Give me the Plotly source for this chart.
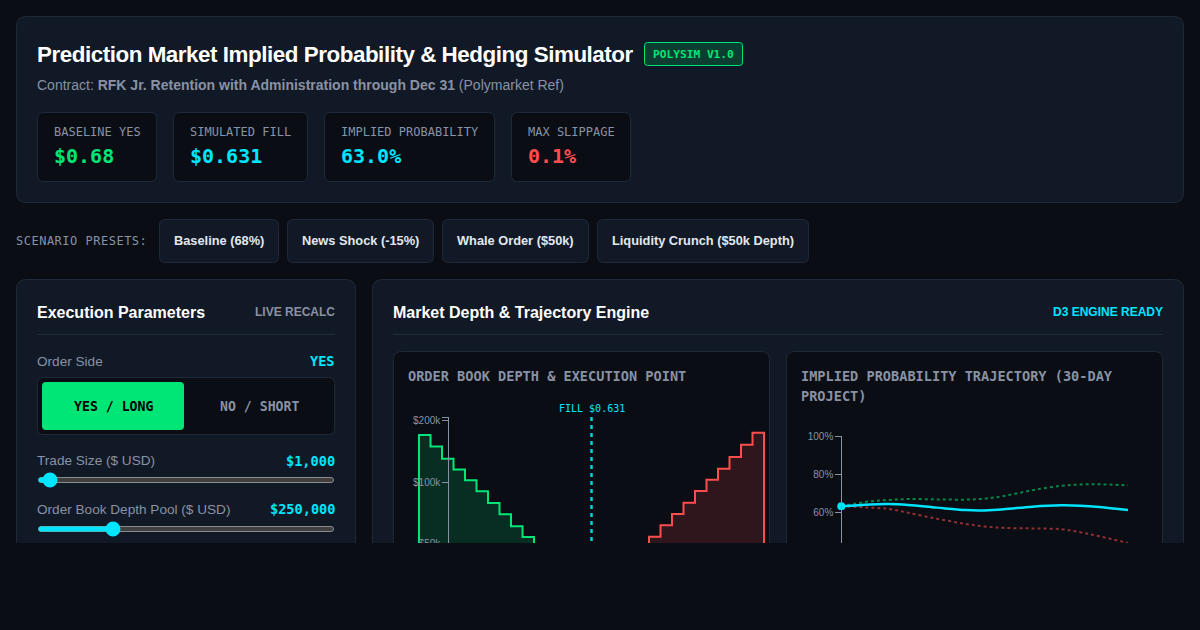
import plotly.graph_objects as go

W, H = 1200, 630

BG = "#0a0d14"
CARD = "#121926"
BORDER = "#1f2937"
MUTED = "#8892a4"
GREEN = "#00e676"
CYAN = "#00e5ff"
RED = "#ff4d4d"
SANS = "Liberation Sans"
MONO = "DejaVu Sans Mono"

# order book
bid_prices = [0.556, 0.556, 0.561, 0.566, 0.571, 0.576, 0.581, 0.586, 0.591, 0.596, 0.601, 0.606, 0.606]
bid_depth = [1000, 170000, 149000, 130000, 115000, 102000, 90000, 79000, 69500, 60700, 53800, 53800, 1000]
ask_prices = [0.656, 0.656, 0.661, 0.666, 0.671, 0.676, 0.681, 0.686, 0.691, 0.696, 0.701, 0.706, 0.706]
ask_depth = [1000, 54000, 61400, 69700, 79200, 90400, 102600, 116000, 132600, 152000, 174000, 174000, 1000]
fill_price = 0.631
depth_ticks = [200000, 100000, 50000]
depth_labels = ["$200k", "$100k", "$50k"]

# trajectory
days = [0, 3, 5, 7, 10, 13, 15, 17, 20, 23, 25, 27, 30]
prob_mean = [63.2, 64.2, 64.4, 63.9, 62.5, 61.2, 61.05, 61.6, 63.0, 63.7, 63.5, 62.8, 61.2]
prob_up = [63.2, 65.8, 66.5, 67.0, 66.8, 66.7, 67.2, 68.6, 71.6, 73.9, 74.6, 74.7, 74.2]
prob_down = [63.2, 62.5, 61.8, 59.8, 56.7, 54.0, 52.6, 51.9, 51.6, 51.2, 49.6, 47.5, 44.0]
prob_ticks = [100, 80, 60, 40, 20, 0]
prob_labels = ["100%", "80%", "60%", "40%", "20%", "0%"]

# header cards
stat_labels = ["BASELINE YES", "SIMULATED FILL", "IMPLIED PROBABILITY", "MAX SLIPPAGE"]
stat_values = ["$0.68", "$0.631", "63.0%", "0.1%"]
stat_colors = [GREEN, CYAN, CYAN, RED]
stat_left = [37, 173, 324, 511]
stat_right = [157, 308, 495, 631]

preset_labels = ["Baseline (68%)", "News Shock (-15%)", "Whale Order ($50k)", "Liquidity Crunch ($50k Depth)"]
preset_left = [159, 287, 442, 597]
preset_right = [279, 434, 589, 809]


def fx(x):
    return x / W


def fy(y):
    return 1 - y / H


shapes = []
annotations = []


def box(x0, y0, x1, y1, r=0, fill=CARD, line=BORDER, layer="below"):
    p = lambda x, y: f"{fx(x)},{fy(y)}"
    path = (
        f"M {p(x0 + r, y0)} L {p(x1 - r, y0)} Q {p(x1, y0)} {p(x1, y0 + r)} "
        f"L {p(x1, y1 - r)} Q {p(x1, y1)} {p(x1 - r, y1)} "
        f"L {p(x0 + r, y1)} Q {p(x0, y1)} {p(x0, y1 - r)} "
        f"L {p(x0, y0 + r)} Q {p(x0, y0)} {p(x0 + r, y0)} Z"
    )
    shapes.append(dict(type="path", path=path, xref="paper", yref="paper", fillcolor=fill,
                       line=dict(color=line, width=1 if line else 0), layer=layer))


def rule(x0, x1, y):
    shapes.append(dict(type="line", xref="paper", yref="paper", x0=fx(x0), x1=fx(x1), y0=fy(y), y1=fy(y),
                       line=dict(color=BORDER, width=1), layer="below"))


def txt(x, y, text, size=13, color=MUTED, family=SANS, anchor="left", bold=False, spacing=None):
    if bold:
        text = f"<b>{text}</b>"
    if spacing is not None:
        text = f'<span style="letter-spacing:{spacing}px">{text}</span>'
    annotations.append(dict(
        x=fx(x), y=fy(y), xref="paper", yref="paper", text=text,
        showarrow=False, xanchor=anchor, yanchor="middle", borderpad=0, borderwidth=0,
        font=dict(family=family, size=size, color=color),
    ))


# header
box(16.5, 16.5, 1183.5, 202.5, r=10)
txt(37, 54, "Prediction Market Implied Probability &amp; Hedging Simulator", 22.4, "#ffffff", bold=True, spacing=-0.46)
box(644.5, 42.5, 742.5, 65.5, r=3, fill="#0b3d30", line=GREEN)
txt(693.5, 54, "POLYSIM V1.0", 11.2, GREEN, MONO, "center", True)
txt(37, 85, "Contract: <b>RFK Jr. Retention with Administration through Dec 31</b> (Polymarket Ref)", 14)

for label, value, color, left, right in zip(stat_labels, stat_values, stat_colors, stat_left, stat_right):
    box(left + 0.5, 112.5, right - 0.5, 181.5, r=6, fill=BG)
    txt(left + 17, 132, label, 12, MUTED, MONO)
    txt(left + 17, 156, value, 20, color, MONO, bold=True)

# presets
txt(16, 241, "SCENARIO PRESETS:", 12, MUTED, MONO, spacing=0.5)
for label, left, right in zip(preset_labels, preset_left, preset_right):
    box(left + 0.5, 219.5, right - 0.5, 262.5, r=6)
    txt((left + right) / 2, 241, label, 12.8, "#e2e8f0", SANS, "center", True)

# left panel
box(16.5, 279.5, 355.5, 620, r=10)
txt(37, 312, "Execution Parameters", 16, "#ffffff", bold=True)
txt(335, 312, "LIVE RECALC", 12, MUTED, anchor="right", bold=True)
rule(37, 335, 334.5)
txt(37, 361, "Order Side", 13.6)
txt(335, 361, "YES", 13.6, CYAN, MONO, "right", True)
box(37.5, 377.5, 334.5, 434.5, r=6, fill=BG)
box(42, 382, 184, 430, r=4, fill=GREEN, line=None)
txt(113, 406, "YES / LONG", 13.2, "#000000", MONO, "center", True)
txt(259, 406, "NO / SHORT", 13.2, MUTED, MONO, "center", True)

txt(37, 461, "Trade Size ($ USD)", 13.6)
txt(335, 461, "$1,000", 13.6, CYAN, MONO, "right", True)
box(38.5, 477.5, 333.5, 482.5, r=2.5, fill="#3f3f3f", line="#8a8a8a")
box(38.5, 477.5, 50, 482.5, r=2.5, fill=CYAN, line=None)
shapes.append(dict(type="circle", xref="paper", yref="paper", x0=fx(42.5), x1=fx(57.5), y0=fy(487.5), y1=fy(472.5),
                   fillcolor=CYAN, line=dict(width=0), layer="below"))

txt(37, 509, "Order Book Depth Pool ($ USD)", 13.6)
txt(335, 509, "$250,000", 13.6, CYAN, MONO, "right", True)
box(38.5, 526.5, 333.5, 531.5, r=2.5, fill="#3f3f3f", line="#8a8a8a")
box(38.5, 526.5, 113, 531.5, r=2.5, fill=CYAN, line=None)
shapes.append(dict(type="circle", xref="paper", yref="paper", x0=fx(105.5), x1=fx(120.5), y0=fy(536.5), y1=fy(521.5),
                   fillcolor=CYAN, line=dict(width=0), layer="below"))

# right panel
box(372.5, 279.5, 1183.5, 620, r=10)
txt(393, 312, "Market Depth &amp; Trajectory Engine", 16, "#ffffff", bold=True)
txt(1163, 312, "D3 ENGINE READY", 12, CYAN, anchor="right", bold=True)
rule(393, 1163, 334.5)

box(393.5, 351.5, 769.5, 620, r=8, fill=BG)
txt(408, 376, "ORDER BOOK DEPTH &amp; EXECUTION POINT", 13.6, MUTED, MONO, bold=True)
box(786.5, 351.5, 1162.5, 620, r=8, fill=BG)
txt(801, 376, "IMPLIED PROBABILITY TRAJECTORY (30-DAY", 13.6, MUTED, MONO, bold=True)
txt(801, 396, "PROJECT)", 13.6, MUTED, MONO, bold=True)
txt(592, 408, f"FILL ${fill_price}", 10, CYAN, MONO, "center")

# the page is cut off here in the screenshot
shapes.append(dict(type="rect", xref="paper", yref="paper", x0=0, x1=1, y0=0, y1=fy(543),
                   fillcolor=BG, line=dict(width=0), layer="above"))

fig = go.Figure()

fig.add_trace(go.Scatter(x=bid_prices, y=bid_depth, mode="lines", line=dict(color=GREEN, width=2, shape="hv"),
                         fill="tozeroy", fillcolor="rgba(0,230,118,0.15)", xaxis="x", yaxis="y", hoverinfo="skip"))
fig.add_trace(go.Scatter(x=ask_prices, y=ask_depth, mode="lines", line=dict(color=RED, width=2, shape="hv"),
                         fill="tozeroy", fillcolor="rgba(255,77,77,0.15)", xaxis="x", yaxis="y", hoverinfo="skip"))
fig.add_trace(go.Scatter(x=[fill_price, fill_price], y=[208000, 1000], mode="lines",
                         line=dict(color=CYAN, width=2.5, dash="4px,4px"), opacity=0.9,
                         xaxis="x", yaxis="y", hoverinfo="skip"))

fig.add_trace(go.Scatter(x=days, y=prob_up, mode="lines", line=dict(color=GREEN, width=2, dash="3px,3px", shape="spline"),
                         opacity=0.55, xaxis="x2", yaxis="y2", hoverinfo="skip"))
fig.add_trace(go.Scatter(x=days, y=prob_down, mode="lines", line=dict(color=RED, width=2, dash="3px,3px", shape="spline"),
                         opacity=0.55, xaxis="x2", yaxis="y2", hoverinfo="skip"))
fig.add_trace(go.Scatter(x=days, y=prob_mean, mode="lines", line=dict(color=CYAN, width=2.5, shape="spline"),
                         xaxis="x2", yaxis="y2", hoverinfo="skip"))
fig.add_trace(go.Scatter(x=days[:1], y=prob_mean[:1], mode="markers", marker=dict(color=CYAN, size=8),
                         cliponaxis=False, xaxis="x2", yaxis="y2", hoverinfo="skip"))

tick_font = dict(family=SANS, size=10, color=MUTED)

fig.update_layout(
    width=W, height=H, margin=dict(l=0, r=0, t=0, b=0),
    paper_bgcolor=BG, plot_bgcolor="rgba(0,0,0,0)",
    showlegend=False, shapes=shapes, annotations=annotations,
    xaxis=dict(domain=[fx(408), fx(770)], range=[0.631 - 183.5 / 2300, 0.631 + 178.5 / 2300],
               visible=False, anchor="y", automargin=False),
    yaxis=dict(domain=[fy(620), fy(417)], type="log", range=[4.3245, 5.3182], anchor="free", position=fx(448.3),
               tickvals=[208000] + depth_ticks, ticktext=[""] + depth_labels, ticks="outside", ticklen=6,
               tickcolor=MUTED, tickfont=tick_font, showgrid=False, zeroline=False, automargin=False,
               showline=True, linecolor=MUTED, linewidth=1),
    xaxis2=dict(domain=[fx(841.3), fx(1128)], range=[0, 30], visible=False, anchor="y2", automargin=False),
    yaxis2=dict(domain=[fy(627), fy(436)], range=[0, 100], anchor="free", position=fx(841.3),
                tickvals=prob_ticks, ticktext=prob_labels, ticks="outside", ticklen=6,
                tickcolor=MUTED, tickfont=tick_font, showgrid=False, zeroline=False, automargin=False,
                showline=True, linecolor=MUTED, linewidth=1),
)

fig.write_html("out.html", config=dict(displayModeBar=False),
               post_script="document.body.style.margin='0';document.body.style.background='" + BG + "';")
